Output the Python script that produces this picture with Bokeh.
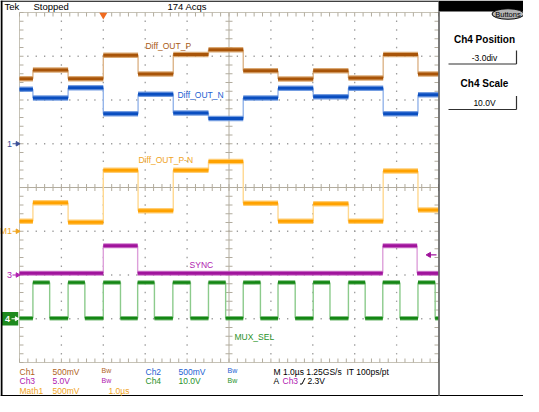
import numpy as np
from bokeh.plotting import figure
from bokeh.models import Range1d, ColumnDataSource
from bokeh.core.properties import value
from bokeh.embed import file_html
from bokeh.resources import INLINE

# ---------------- data read from the screen capture ----------------
# boundaries of the 8-phase analog sequence (µs, relative to trigger)
seg_edges_us = [-2.0, -1.68, -0.84, 0.0, 0.83, 1.67, 2.51, 3.34, 4.17, 5.01, 5.85, 6.68, 7.51, 8.0]
diff_out_p_v = [0.744, 0.844, 0.744, 1.011, 0.797, 1.019, 1.074, 0.833, 0.741, 0.833, 0.752, 1.019, 0.797]
diff_out_n_v = [0.622, 0.522, 0.641, 0.344, 0.567, 0.352, 0.289, 0.522, 0.633, 0.537, 0.633, 0.344, 0.559]
diff_out_pn_v = [0.114, 0.326, 0.103, 0.697, 0.233, 0.697, 0.797, 0.320, 0.114, 0.314, 0.114, 0.689, 0.244]
sync_edges_us = [-2.0, 0.0, 0.82, 6.67, 7.49, 8.0]
sync_v = [0.19, 3.33, 0.19, 3.33, 0.19]
mux_rise_us = [-1.68, -0.84, 0.0, 0.82, 1.66, 2.51, 3.34, 4.17, 5.01, 5.85, 6.67, 7.51]
mux_fall_us = [-1.28, -0.44, 0.41, 1.22, 2.08, 2.92, 3.75, 4.58, 5.41, 6.25, 7.08, 7.92]
mux_low_v = 0.1
mux_high_v = 8.3
record_start_us, record_end_us = -2.0, 8.0
trigger_level_v = 2.3

# channel settings (scale and ground position in divisions from centre)
channels = ["ch1", "ch2", "math", "ch3", "ch4"]
volts_per_div = [0.5, 0.5, 0.5, 5.0, 10.0]
position_div = [1.0, 1.0, -1.0, -2.0, -3.0]
us_per_div = 1.0
trigger_pos_div = 2.0

trace_labels = ["Diff_OUT_P", "Diff_OUT_N", "Diff_OUT_P-N", "SYNC", "MUX_SEL"]
label_t_us = [1.55, 2.32, 1.49, 2.34, 3.13]
label_v = [1.122, 0.556, 0.814, 1.14, -4.07]
label_ch = ["ch1", "ch2", "math", "ch3", "ch4"]
label_align = ["center", "center", "center", "center", "left"]

# ---------------- layout (canvas pixels) ----------------
W, H = 523, 396
GX0, GX1 = 19.0, 438.0
GY0, GY1 = 12.0, 362.0
NX, NY = 10, 8
DX = (GX1 - GX0) / NX
DY = (GY1 - GY0) / NY
FONT = value("Liberation Sans")

COL = {
    "ch1": ("#A85408", "#D49A5C", "#DDB58A"),
    "ch2": ("#0A4EC0", "#5C8CDC", "#95B5EA"),
    "math": ("#FFA200", "#FFC45A", "#FFD890"),
    "ch3": ("#A0149C", "#C864C4", "#DDA0DA"),
    "ch4": ("#138613", "#62B062", "#8CCB8C"),
}
TXT = {"ch1": "#B0641E", "ch2": "#2462D2", "math": "#F0A41E", "ch3": "#B020B0", "ch4": "#2A922A"}

p = figure(width=W, height=H, x_range=Range1d(0, W), y_range=Range1d(H, 0),
           min_border=0, toolbar_location=None, output_backend="svg",
           x_axis_location=None, y_axis_location=None, title=None,
           outline_line_color=None, background_fill_color="white")
p.xgrid.visible = False
p.ygrid.visible = False

# time range mapped on the graticule
t_left = -trigger_pos_div * us_per_div
p.extra_x_ranges = {"time": Range1d(t_left - GX0 / DX * us_per_div,
                                    t_left + (W - GX0) / DX * us_per_div)}
d_top = NY / 2 + GY0 / DY
d_bot = NY / 2 - (H - GY0) / DY
p.extra_y_ranges = {ch: Range1d((d_bot - pos) * s, (d_top - pos) * s)
                    for ch, s, pos in zip(channels, volts_per_div, position_div)}


def txt(x, y, s, color, size=9, align="left", bold=False, xr="default", yr="default"):
    src = ColumnDataSource(dict(x=[x], y=[y], t=[s]))
    p.text(x="x", y="y", text="t", source=src, text_color=color, text_font=FONT,
           text_font_size=value(f"{size}px"), text_align=align, text_baseline="middle",
           text_font_style="bold" if bold else "normal", x_range_name=xr, y_range_name=yr)


# ---------------- graticule ----------------
xs_minor = GX0 + np.arange(NX * 5 + 1) * DX / 5
ys_minor = GY0 + np.arange(NY * 5 + 1) * DY / 5
dot_x, dot_y = [], []
for j in range(1, NY):
    if j == NY // 2:
        continue
    dot_x += list(xs_minor[1:-1]); dot_y += [GY0 + j * DY] * (len(xs_minor) - 2)
for i in range(1, NX):
    if i == NX // 2:
        continue
    dot_x += [GX0 + i * DX] * (len(ys_minor) - 2); dot_y += list(ys_minor[1:-1])
p.rect(dot_x, dot_y, width=1.3, height=1.3, width_units="screen", height_units="screen",
       fill_color="#9C9C9C", line_color=None)

gcol = "#B2AC9E"
xc, yc = GX0 + NX / 2 * DX, GY0 + NY / 2 * DY
p.segment([GX0, xc], [yc, GY0], [GX1, xc], [yc, GY1], line_color=gcol, line_width=1)
p.segment(xs_minor, yc - 3.5, xs_minor, yc + 3.5, line_color=gcol, line_width=1)
p.segment(xc - 3.5, ys_minor, xc + 3.5, ys_minor, line_color=gcol, line_width=1)
# border
p.segment([GX0, GX0, GX0], [GY0, GY1, GY0], [GX1, GX1, GX0], [GY0, GY1, GY1],
          line_color="#C6C2B6", line_width=1)
p.segment(xs_minor, GY0, xs_minor, GY0 + 4, line_color=gcol, line_width=1)
p.segment(xs_minor, GY1, xs_minor, GY1 - 4, line_color=gcol, line_width=1)
p.segment(GX0, ys_minor, GX0 + 4, ys_minor, line_color=gcol, line_width=1)
p.segment(GX1, ys_minor, GX1 - 4, ys_minor, line_color=gcol, line_width=1)


# ---------------- traces ----------------
def trace(edges, levels, ch, core_w=3.0, fringe_w=5.5):
    e = np.asarray(edges, float); v = np.asarray(levels, float)
    core, fringe, edge = COL[ch]
    kw = dict(x_range_name="time", y_range_name=ch)
    p.segment(e[1:-1], v[:-1], e[1:-1], v[1:], line_color=edge, line_width=1.4, **kw)
    p.segment(e[:-1], v, e[1:], v, line_color=fringe, line_width=fringe_w, line_alpha=0.85, **kw)
    p.segment(e[:-1], v, e[1:], v, line_color=core, line_width=core_w, **kw)


trace(seg_edges_us, diff_out_p_v, "ch1")
trace(seg_edges_us, diff_out_n_v, "ch2")
trace(seg_edges_us, diff_out_pn_v, "math")
trace(sync_edges_us, sync_v, "ch3", fringe_w=5)
mux_edges = [record_start_us] + [t for pair in zip(mux_rise_us, mux_fall_us) for t in pair] + [record_end_us]
mux_levels = [mux_low_v] + [mux_high_v, mux_low_v] * len(mux_rise_us)
trace(mux_edges, mux_levels, "ch4", core_w=2.6, fringe_w=4.5)

for s, t, v, ch, al in zip(trace_labels, label_t_us, label_v, label_ch, label_align):
    txt(t, v, s, TXT[ch] if ch != "ch1" else "#A85A14", size=8.5, align=al, xr="time", yr=ch)

# ---------------- ground markers on the left ----------------
for s, ch, col in [("1", "ch1", "#3A4E96"), ("M1", "math", "#F0A41E"), ("3", "ch3", "#B020B0")]:
    txt(11.5, 0, s, col, size=9, align="right", yr=ch)
    p.segment(12, 0, 17, 0, line_color=col, line_width=1, y_range_name=ch)
    p.scatter([17], [0], marker="triangle", angle=-np.pi / 2, size=4.5, color=col, y_range_name=ch)
p.rect([9.5], [0], width=16.5, height=13.5, height_units="screen", fill_color="#1E8A1E",
       line_color=None, y_range_name="ch4")
txt(7, 0, "4", "white", size=9, align="center", bold=True, yr="ch4")
p.segment(11, 0, 16, 0, line_color="white", line_width=1, y_range_name="ch4")
p.scatter([16], [0], marker="triangle", angle=-np.pi / 2, size=4, color="white", y_range_name="ch4")

# trigger position & level markers
p.scatter([0.0], [GY0 + 2.5], marker="inverted_triangle", size=8, color="#F06A1E",
          line_color=None, x_range_name="time")
p.segment(GX1 - 10, trigger_level_v, GX1 - 2, trigger_level_v, line_color="#A0149C",
          line_width=1.2, y_range_name="ch3")
p.scatter([GX1 - 9.5], [trigger_level_v], marker="triangle", angle=np.pi / 2, size=5,
          color="#A0149C", y_range_name="ch3")

# ---------------- frame, header, right panel ----------------
p.quad(left=GX1, right=W, top=0, bottom=GY0 - 1, fill_color="black", line_color=None)
p.segment([0, 1.0, 0], [0.6, 0, H - 0.8], [GX1, 1.0, W], [0.6, H, H - 0.8],
          line_color="black", line_width=[1.2, 2, 1.6])
p.segment(GX1 + 0.5, GY0 - 1, GX1 + 0.5, H, line_color="#5A5A5A", line_width=1.6)

txt(4, 6, "Tek", "black", size=9.5)
txt(33, 6, "Stopped", "black", size=9.5)
txt(167, 6, "174 Acqs", "black", size=9.5)

p.ellipse([507.5], [13.5], width=32, height=10.5, fill_color="#B4B4B4", line_color="black", line_width=1)
txt(507.5, 13.8, "Buttons", "black", size=7.5, align="center")
txt(484, 38.5, "Ch4 Position", "black", size=10, align="center", bold=True)
txt(484, 57, "-3.0div", "black", size=8.5, align="center")
p.segment([448, 516], [63.5, 50], [516, 516], [63.5, 63.5], line_color="#303030", line_width=1.2)
txt(484, 83, "Ch4 Scale", "black", size=10, align="center", bold=True)
txt(484, 102.5, "10.0V", "black", size=8.5, align="center")
p.segment([448, 516], [109, 95.5], [516, 516], [109, 109], line_color="#303030", line_width=1.2)

# ---------------- bottom readout ----------------
r1, r2, r3 = 371, 380.5, 390
for s, x, y, c, sz in [
    ("Ch1", 19, r1, TXT["ch1"], 8.5), ("500mV", 52, r1, TXT["ch1"], 8.5), ("Bw", 101, r1 - 1, TXT["ch1"], 7),
    ("Ch2", 145, r1, TXT["ch2"], 8.5), ("500mV", 178, r1, TXT["ch2"], 8.5), ("Bw", 227, r1 - 1, TXT["ch2"], 7),
    ("M 1.0µs 1.25GS/s", 273, r1, "black", 8.5), ("IT 100ps/pt", 346, r1, "black", 8.5),
    ("Ch3", 19, r2, TXT["ch3"], 8.5), ("5.0V", 52, r2, TXT["ch3"], 8.5), ("Bw", 101, r2 - 1, TXT["ch3"], 7),
    ("Ch4", 145, r2, TXT["ch4"], 8.5), ("10.0V", 178, r2, TXT["ch4"], 8.5), ("Bw", 227, r2 - 1, TXT["ch4"], 7),
    ("A", 273, r2, "black", 8.5), ("Ch3", 282, r2, TXT["ch3"], 8.5), ("2.3V", 307, r2, "black", 8.5),
    ("Math1", 19, r3, TXT["math"], 8.5), ("500mV", 52, r3, TXT["math"], 8.5), ("1.0µs", 108, r3, TXT["math"], 8.5),
]:
    txt(x, y, s, c, size=sz)
p.line([299.5, 301.5, 304.5], [r2 + 3, r2 + 3, r2 - 3], line_color="black", line_width=1)

open("out.html", "w").write(file_html(p, INLINE))
